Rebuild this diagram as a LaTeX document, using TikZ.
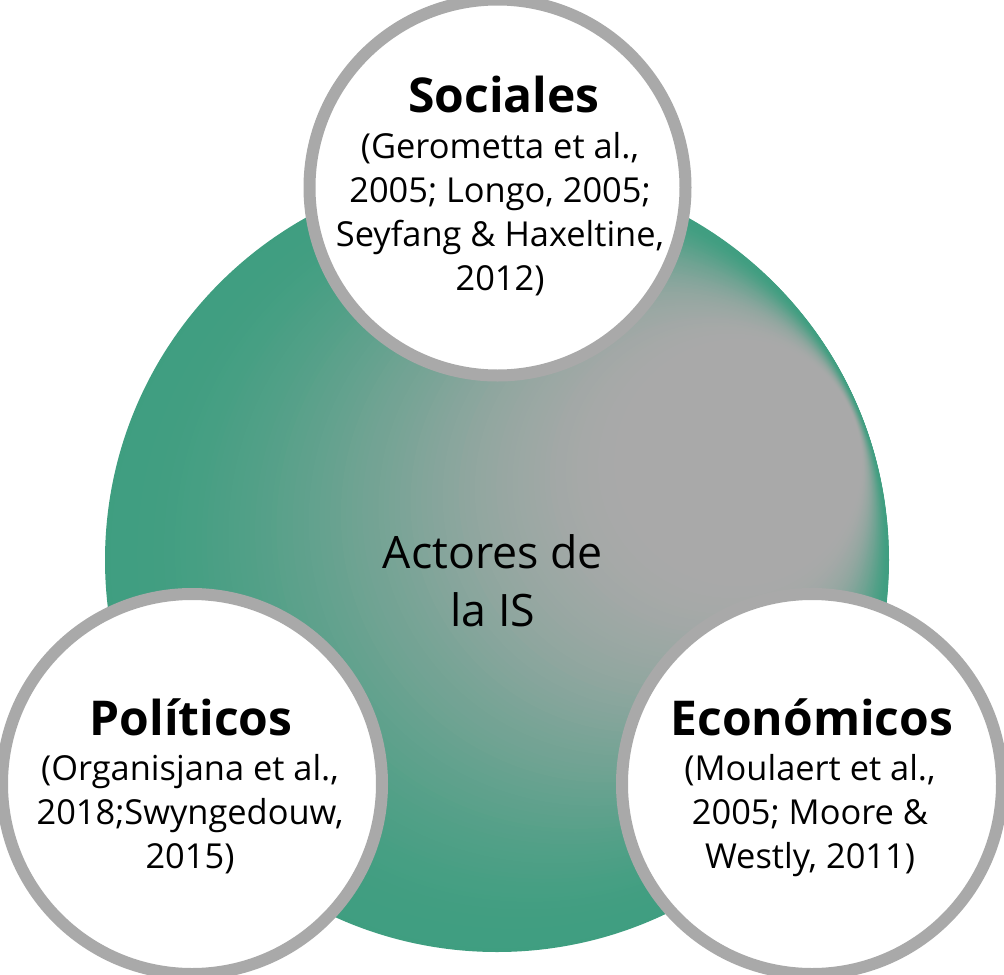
\documentclass[tikz,border=0pt]{standalone}
\usepackage{fontspec}
\setmainfont{Open Sans}
\definecolor{gr}{HTML}{3F9E80}
\definecolor{gy}{HTML}{A9A9A9}
\definecolor{rim}{HTML}{A9A9A9}
\tikzset{
  actor/.style={circle, draw=rim, line width=9pt, fill=white, inner sep=0pt, minimum size=#1},
  title/.style={anchor=base, font=\fontsize{36}{33}\bfseries\selectfont},
  cite/.style={anchor=base, align=center, font=\fontsize{25.8}{33}\selectfont},
  centre/.style={anchor=base, align=center, font=\fontsize{33.5}{43.5}\selectfont}
}
\begin{document}
\begin{tikzpicture}[x=0.75pt,y=-0.75pt]
\useasboundingbox (0,0) rectangle (1004,975);
% big circle with offset path gradient
\foreach \i in {0,...,100}{
  \pgfmathsetmacro\s{\i/100}
  \pgfmathsetmacro\t{0.72*\s}
  \pgfmathsetmacro\cx{497+\t*352.3}
  \pgfmathsetmacro\cy{560-\t*142.3}
  \pgfmathsetmacro\r{392*(1-\t)}
  \pgfmathtruncatemacro\p{100*(1-(3*\s*\s-2*\s*\s*\s))}
  \fill[gr!\p!gy] (\cx,\cy) circle[radius=\r];
}
\coordinate (big) at (497,560);
\node[centre] (ctext) at (493,626) {Actores de\\la IS};
% actor circles
\node[actor=376pt*0.75] (soc) at (497.5,187.5) {};
\node[actor=380pt*0.75] (pol) at (192,784) {};
\node[actor=380pt*0.75] (eco) at (812,784) {};
% texts
\node[title] (soct) at (504,112) {Sociales};
\node[cite] (socc) at (500,290) {(Gerometta et al.,\\2005; Longo, 2005;\\Seyfang \& Haxeltine,\\2012)};
\node[title] (polt) at (191,735) {Políticos};
\node[cite] (polc) at (190,868) {(Organisjana et al.,\\2018;Swyngedouw,\\2015)};
\node[title] (ecot) at (812,735) {Económicos};
\node[cite] (ecoc) at (810,868) {(Moulaert et al.,\\2005; Moore \&\\Westly, 2011)};
\end{tikzpicture}
\end{document}
